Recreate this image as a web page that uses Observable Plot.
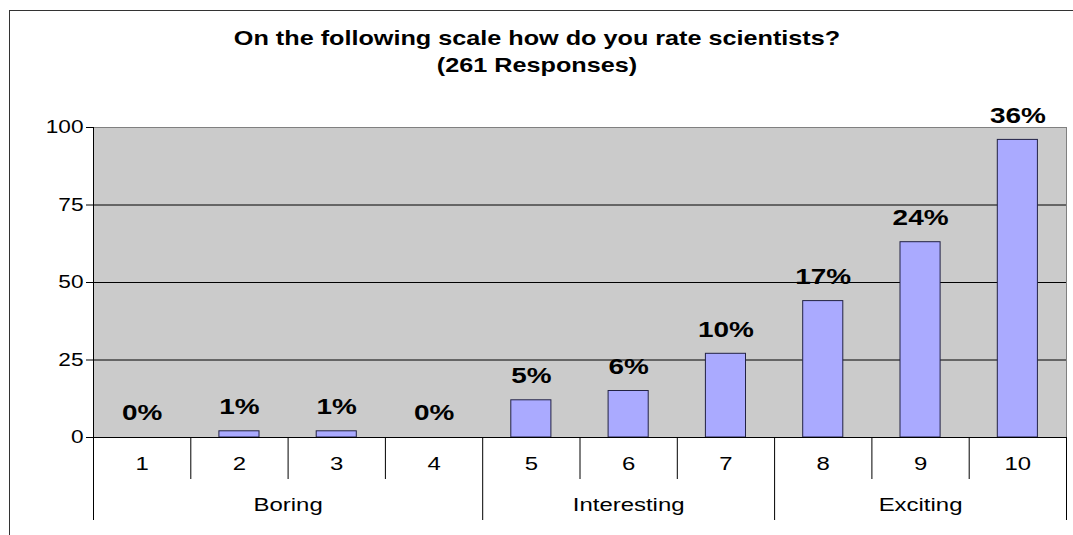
<!DOCTYPE html>
<html><head><meta charset="utf-8">
<script src="https://cdn.jsdelivr.net/npm/d3@7"></script>
<script src="https://cdn.jsdelivr.net/npm/@observablehq/plot@0.6"></script>
<style>
html,body{margin:0;padding:0;background:#fff;overflow:hidden;}
#wrap{position:relative;width:1073px;height:535px;}
#wrap svg{position:absolute;left:0;top:0;}
#outer{position:absolute;left:9px;top:10px;width:2000px;height:2000px;border-top:1px solid #333;border-left:1px solid #333;pointer-events:none;}
</style></head><body>
<div id="wrap"></div>
<script>
const categories = [1,2,3,4,5,6,7,8,9,10];
const responses = [0,2,2,0,12,15,27,44,63,96];
const percentLabels = ["0%","1%","1%","0%","5%","6%","10%","17%","24%","36%"];
const groups = ["Boring","Interesting","Exciting"];
const groupFirst = [1,5,8];
const groupLast = [4,7,10];
const yTicks = [0,25,50,75,100];
const titleLines = ["On the following scale how do you rate scientists?","(261 Responses)"];

const data = categories.map((c,i)=>({cat:c, value:responses[i], label:percentLabels[i]}));
const innerBounds = categories.slice(0,-1).filter(c => !groupLast.includes(c)).map(c=>c+0.5);
const groupBounds = [groupFirst[0]-0.5, ...groupLast.map(c=>c+0.5)];
const groupCenters = groups.map((g,i)=>(groupFirst[i]+groupLast[i])/2);
const font = "'Liberation Sans', Arial, sans-serif";

const chart = Plot.plot({
  width:1073, height:535,
  marginLeft:93, marginRight:7, marginTop:127, marginBottom:98,
  style:{fontFamily: font, fontSize:"17px", background:"transparent", color:"#000"},
  x:{type:"linear", domain:[categories[0]-0.5, categories[categories.length-1]+0.5]},
  y:{domain:[yTicks[0], yTicks[yTicks.length-1]]},
  marks:[
    Plot.frame({fill:"#cbcbcb", stroke:null}),
    Plot.ruleY(yTicks.filter(t=>t>0 && t<100), {stroke:"#000"}),
    Plot.ruleY([yTicks[yTicks.length-1]], {stroke:"#808080"}),
    Plot.ruleX([groupBounds[groupBounds.length-1]], {stroke:"#808080"}),
    Plot.rectY(data.filter(d=>d.value>0), {x1: d=>d.cat-0.5, x2: d=>d.cat+0.5, y:"value", insetLeft:28.6, insetRight:28.6, fill:"#aaaaff", stroke:"#222244", strokeWidth:1}),
    Plot.ruleX([groupBounds[0]], {stroke:"#000"}),
    Plot.ruleY([0], {stroke:"#000"}),
    Plot.ruleX(innerBounds, {x:d=>d, y1:0, y2:0, insetBottom:-42, stroke:"#000"}),
    Plot.ruleX(groupBounds, {x:d=>d, y1:0, y2:0, insetBottom:-83, stroke:"#000"}),
    Plot.axisY({ticks: yTicks, tickSize:7, tickPadding:3, label:null, fontSize:17.7, tickFormat:d=>String(d)}),
    Plot.axisX(categories, {tickSize:0, tickPadding:19, label:null, fontSize:18.7, tickFormat:d=>String(d)}),
    Plot.text(groups, {x:(d,i)=>groupCenters[i], frameAnchor:"bottom", lineAnchor:"middle", dy:68, fontSize:18.7}),
    Plot.text(data, {x:"cat", y:"value", text:"label", dy:-24, fontSize:21.8, fontWeight:"bold"}),
    Plot.text([titleLines[0]], {frameAnchor:"top", lineAnchor:"middle", dx:-43, dy:-89, fontSize:19.7, fontWeight:"bold"}),
    Plot.text([titleLines[1]], {frameAnchor:"top", lineAnchor:"middle", dx:-43, dy:-62, fontSize:19.7, fontWeight:"bold"})
  ]
});
const wrap = document.getElementById("wrap");
wrap.appendChild(chart);
const outer = document.createElement("div");
outer.id = "outer";
wrap.appendChild(outer);
// the reference glyphs are horizontally stretched
chart.querySelectorAll("text").forEach(t => {
  const len = t.getComputedTextLength();
  if (len > 0) {
    t.setAttribute("textLength", (len*1.28).toFixed(1));
    t.setAttribute("lengthAdjust", "spacingAndGlyphs");
  }
});
</script>
</body></html>
